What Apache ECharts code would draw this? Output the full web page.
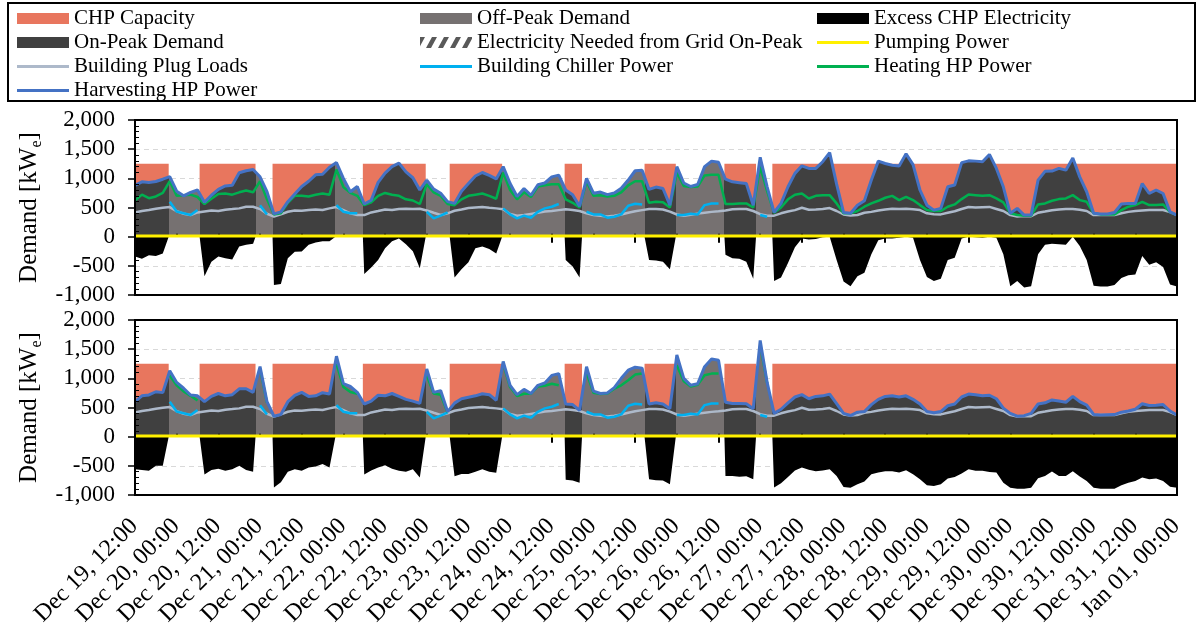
<!DOCTYPE html>
<html>
<head>
<meta charset="utf-8">
<script src="https://cdn.jsdelivr.net/npm/echarts@6/dist/echarts.min.js"></script>
<style>
html, body { margin: 0; padding: 0; background: #fff; }
#chart { width: 1198px; height: 626px; }
</style>
</head>
<body>
<div id="chart"></div>
<script>
// ---------------------------------------------------------------
// Hourly electric balance, Dec 19 12:00 – Jan 01 00:00 (300 h).
// Series are sampled every 2 h; x values are hours from the start.
// ---------------------------------------------------------------
const _ = null; // no visible value at this sample

const tickLabels = [
  'Dec 19, 12:00', 'Dec 20, 00:00', 'Dec 20, 12:00', 'Dec 21, 00:00', 'Dec 21, 12:00',
  'Dec 22, 00:00', 'Dec 22, 12:00', 'Dec 23, 00:00', 'Dec 23, 12:00', 'Dec 24, 00:00',
  'Dec 24, 12:00', 'Dec 25, 00:00', 'Dec 25, 12:00', 'Dec 26, 00:00', 'Dec 26, 12:00',
  'Dec 27, 00:00', 'Dec 27, 12:00', 'Dec 28, 00:00', 'Dec 28, 12:00', 'Dec 29, 00:00',
  'Dec 29, 12:00', 'Dec 30, 00:00', 'Dec 30, 12:00', 'Dec 31, 00:00', 'Dec 31, 12:00',
  'Jan 01, 00:00'
];

const stepHours = 2;
const chpCapacityKw = 1250;

// On-peak windows (CHP running), hours from start
const peakPeriods = [
  [0, 9.7], [18.6, 34.7], [39.6, 57.7], [65.6, 83.7], [90.6, 105.7],
  [123.7, 128.7], [146.7, 155.7], [169.7, 178.8], [183.5, 300]
];

// Pumping power, one value every 12 h
const pumpingKw = [12, 11, 12, 12, 13, 11, 12, 12, 12, 11, 13, 12, 12, 11, 12, 12, 13, 12, 12, 11, 12, 12, 12, 11, 12, 12];

const plugLoadKw = [
  416, 439, 456, 479, 496, 507, 439, 393, 370, 416,
  433, 450, 439, 462, 473, 485, 513, 513, 473, 393,
  345, 382, 427, 450, 445, 456, 467, 456, 485, 507,
  456, 399, 370, 370, 416, 439, 467, 456, 473, 479,
  473, 479, 450, 410, 372, 400, 445, 465, 490, 500,
  510, 495, 485, 470, 390, 360, 370, 390, 410, 430,
  440, 455, 470, 458, 440, 400, 370, 359, 345, 359,
  380, 410, 435, 455, 473, 473, 465, 430, 380, 359,
  375, 395, 410, 425, 435, 450, 470, 473, 473, 440,
  385, 360, 360, 400, 430, 455, 496, 462, 465, 473,
  490, 440, 380, 362, 372, 410, 425, 450, 465, 478,
  475, 478, 470, 456, 400, 385, 382, 410, 435, 475,
  508, 500, 505, 510, 475, 440, 370, 345, 355, 350,
  410, 430, 452, 465, 473, 473, 460, 440, 370, 370,
  370, 370, 400, 425, 440, 450, 456, 456, 456, 420,
  370
];

const chillerKw = [
  _, _, _, _, _, 600, 430, 400, 370, 456,
  _, _, _, _, _, _, _, _, 540, 382,
  _, _, _, _, _, _, _, _, _, 540,
  427, 400, 400, _, _, _, _, _, _, _,
  _, _, 427, 313, 360, 416, _, _, _, _,
  _, _, _, 485, 382, 313, 360, 325, 427, 485,
  513, 560, _, _, _, 427, 382, 382, 325, 342,
  382, 530, 565, 553, _, _, _, _, 370, 370,
  393, 382, 541, 570, 570, _, _, _, _, _,
  370, 342, _, _, _, _, _, _, _, _,
  _, _, _, _, _, _, _, _, _, _,
  _, _, _, _, _, _, _, _, _, _,
  _, _, _, _, _, _, _, _, _, _,
  _, _, _, _, _, _, _, _, _, _,
  _, _, _, _, _, _, _, _, _, _,
  _
];

// ---- Upper panel ----
const harvestKwTop = [
  880, 940, 930, 945, 985, 1030, 780, 700, 760, 800,
  590, 710, 810, 870, 880, 1095, 1130, 1150, 1026, 770,
  390, 425, 600, 730, 860, 950, 1060, 1070, 1190, 1270,
  1000, 770, 860, 560, 625, 930, 1090, 1200, 1260, 1110,
  1010, 800, 970, 815, 745, 600, 570, 780, 910, 1040,
  1100, 1050, 990, 1200, 910, 690, 825, 710, 890, 920,
  1025, 1055, 800, 720, 520, 1000, 745, 765, 720, 750,
  830, 970, 1130, 1140, 810, 850, 825, 540, 1200, 920,
  860, 895, 1200, 1295, 1275, 985, 940, 925, 910, 540,
  1360, 855, 415, 570, 855, 1085, 1215, 1170, 1170, 1285,
  1440, 900, 415, 400, 540, 615, 970, 1295, 1255, 1225,
  1210, 1420, 1235, 800, 540, 455, 485, 855, 885, 1270,
  1300, 1295, 1285, 1410, 1170, 855, 400, 485, 370, 370,
  970, 1120, 1125, 1170, 1140, 1350, 1025, 770, 400, 390,
  390, 415, 560, 570, 570, 910, 740, 800, 740, 425,
  370
];

const heatingKwTop = [
  620, 720, 660, 690, 750, 950, 700, 710, 720, 680,
  560, 650, 730, 740, 720, 760, 790, 760, 950, 640,
  380, 400, 580, 700, 700, 690, 720, 740, 720, 1150,
  850, 750, 700, 540, 590, 700, 750, 720, 700, 640,
  620, 560, 900, 760, 700, 560, 540, 640, 700, 720,
  740, 700, 650, 1100, 800, 640, 760, 680, 860, 880,
  900, 900, 640, 580, 500, 950, 700, 710, 690, 700,
  760, 880, 950, 950, 580, 600, 590, 500, 1100, 870,
  850, 860, 1050, 1060, 1060, 560, 560, 570, 570, 500,
  1200, 780, 410, 500, 640, 720, 740, 655, 700, 712,
  712, 570, 400, 400, 440, 513, 570, 615, 667, 700,
  627, 684, 627, 541, 456, 440, 440, 513, 553, 644,
  723, 712, 700, 712, 655, 587, 400, 370, 359, 360,
  553, 570, 615, 644, 655, 712, 627, 598, 400, 382,
  382, 382, 456, 513, 541, 598, 541, 541, 553, 420,
  370
];

const excessKwTop = [
  -340, -380, -320, -330, -290, 0, 0, 0, 0, 0,
  -680, -430, -340, -370, -390, -170, -140, -120, 0, 0,
  -830, -810, -370, -260, -255, -140, -100, -80, -80, 0,
  0, 0, 0, -640, -530, -400, -200, -80, -30, -130,
  -250, -540, 0, 0, 0, 0, -700, -560, -440, -200,
  -170, -210, -290, 0, 0, 0, 0, 0, 0, 0,
  0, 0, -400, -510, -700, 0, 0, 0, 0, 0,
  0, 0, 0, 0, -400, -410, -430, -560, 0, 0,
  0, 0, 0, 0, 0, -310, -370, -380, -430, -720,
  0, 0, -760, -700, -450, -180, -30, -50, -40, -10,
  0, -400, -770, -850, -680, -620, -300, -60, -30, -30,
  -20, 0, -20, -400, -690, -760, -720, -400, -360, -30,
  0, -10, -20, 0, -20, -300, -850, -760, -870, -850,
  -300, -140, -120, -130, -140, 0, -160, -400, -840, -855,
  -855, -830, -710, -660, -650, -330, -480, -440, -520, -820,
  -855
];

// ---- Lower panel ----
const harvestKwBottom = [
  600, 700, 715, 770, 755, 1130, 930, 830, 715, 700,
  600, 690, 740, 700, 720, 820, 822, 760, 1200, 600,
  350, 380, 600, 707, 760, 690, 700, 753, 730, 1380,
  908, 860, 760, 560, 610, 710, 700, 740, 690, 640,
  610, 570, 1160, 760, 790, 430, 575, 650, 675, 700,
  736, 720, 625, 1290, 880, 720, 810, 740, 880, 920,
  1050, 1080, 560, 550, 450, 1200, 780, 740, 750, 840,
  1000, 1140, 1190, 1175, 560, 580, 560, 480, 1400, 1000,
  880, 908, 1200, 1330, 1310, 590, 570, 570, 565, 480,
  1650, 930, 400, 470, 580, 680, 720, 650, 690, 700,
  730, 565, 400, 362, 420, 430, 550, 640, 690, 700,
  680, 700, 640, 560, 430, 410, 430, 530, 560, 680,
  730, 720, 700, 710, 650, 490, 400, 351, 360, 400,
  560, 580, 630, 610, 590, 690, 600, 540, 380, 372,
  375, 378, 420, 440, 470, 565, 535, 540, 550, 440,
  372
];

const heatingKwBottom = [
  _, _, _, _, _, 1050, 880, 776, 700, 620,
  _, _, _, _, _, _, _, _, 1167, 580,
  _, _, _, _, _, _, _, _, _, 1250,
  851, 765, 736, _, _, _, _, _, _, _,
  _, _, 1050, 740, 719, 420, _, _, _, _,
  _, _, _, 1250, 850, 696, 736, 736, 860, 874,
  908, 880, _, _, _, 1100, 753, 730, 740, 822,
  880, 966, 1064, 1081, _, _, _, _, 1225, 950,
  860, 890, 1052, 1081, 1081, _, _, _, _, _,
  1570, 920, _, _, _, _, _, _, _, _,
  _, _, _, _, _, _, _, _, _, _,
  _, _, _, _, _, _, _, _, _, _,
  _, _, _, _, _, _, _, _, _, _,
  _, _, _, _, _, _, _, _, _, _,
  _, _, _, _, _, _, _, _, _, _,
  _
];

const excessKwBottom = [
  -560, -570, -586, -500, -500, 0, 0, 0, 0, 0,
  -650, -570, -550, -586, -560, -500, -570, -600, 0, 0,
  -870, -780, -600, -560, -586, -530, -510, -470, -530, 0,
  0, 0, 0, -650, -580, -530, -490, -550, -586, -600,
  -560, -700, 0, 0, 0, 0, -680, -640, -640, -600,
  -560, -600, -620, 0, 0, 0, 0, 0, 0, 0,
  0, 0, -740, -750, -790, 0, 0, 0, 0, 0,
  0, 0, 0, 0, -730, -745, -750, -816, 0, 0,
  0, 0, 0, 0, 0, -673, -673, -685, -680, -730,
  0, 0, -870, -800, -690, -580, -529, -569, -592, -580,
  -558, -673, -862, -874, -816, -770, -644, -615, -592, -592,
  -615, -575, -644, -730, -834, -845, -816, -719, -690, -632,
  -558, -586, -586, -604, -615, -788, -874, -891, -891, -874,
  -713, -673, -598, -673, -673, -592, -684, -759, -874, -891,
  -891, -891, -834, -788, -759, -701, -730, -719, -759, -857,
  -874
];

// No on-peak grid purchase occurs in this period
const gridNeedKw = [];

// ---------------------------------------------------------------
const FONT = 'Liberation Serif';
const COLORS = {
  chp: '#E8765E', onPeak: '#404040', offPeak: '#767171', excess: '#000000',
  pump: '#FFF000', plug: '#ADB9CA', chiller: '#00B0F0', heating: '#00B050',
  harvest: '#4472C4', gridNeed: '#595959'
};

const toPoints = arr => arr.map((v, i) => [i * stepHours, v]);
const pumpPoints = pumpingKw.map((v, i) => [i * 12, v]);
const chpPoints = [];
peakPeriods.forEach(([a, b]) => {
  chpPoints.push([a, 0], [a, chpCapacityKw], [b, chpCapacityKw], [b, 0]);
});

// Excess is zero whenever the CHP is off, so it closes at each window edge
function excessPoints(arr) {
  const pts = toPoints(arr);
  peakPeriods.forEach(([a, b]) => {
    if (a > 0) pts.push([a, 0]);
    if (b < 300) pts.push([b, 0]);
  });
  return pts.sort((u, v) => u[0] - v[0]);
}

const panels = [
  { harvest: harvestKwTop, heating: heatingKwTop, excess: excessKwTop },
  { harvest: harvestKwBottom, heating: heatingKwBottom, excess: excessKwBottom }
];

const GRID_TOP = [120, 320];
const GRID_LEFT = 135, GRID_W = 1042, GRID_H = 175;

const series = [];
const demandSeriesIdx = [];

panels.forEach((d, p) => {
  const base = { type: 'line', xAxisIndex: p * 3, yAxisIndex: p * 2, symbol: 'none', silent: true };
  const lineOf = (name, data, color, width, extra) => Object.assign({}, base, {
    name, data, itemStyle: { color }, lineStyle: { color, width }, connectNulls: false
  }, extra || {});

  series.push(Object.assign({}, base, {
    name: 'CHP Capacity', data: chpPoints,
    itemStyle: { color: COLORS.chp }, lineStyle: { width: 0, color: COLORS.chp },
    areaStyle: { color: COLORS.chp, opacity: 1 }
  }));
  demandSeriesIdx.push(series.length);
  series.push(Object.assign({}, base, {
    name: 'Demand', data: toPoints(d.harvest),
    lineStyle: { width: 0 }, areaStyle: { opacity: 1 }
  }));
  series.push(Object.assign({}, base, {
    name: 'Excess CHP Electricity', data: excessPoints(d.excess),
    itemStyle: { color: COLORS.excess }, lineStyle: { width: 0, color: COLORS.excess },
    areaStyle: { color: COLORS.excess, opacity: 1 }
  }));
  series.push(lineOf('Building Plug Loads', toPoints(plugLoadKw), COLORS.plug, 2.5));
  series.push(lineOf('Building Chiller Power', toPoints(chillerKw), COLORS.chiller, 2.5));
  series.push(lineOf('Heating HP Power', toPoints(d.heating), COLORS.heating, 2.5));
  series.push(lineOf('Harvesting HP Power', toPoints(d.harvest), COLORS.harvest, 3));
  series.push(lineOf('Pumping Power', pumpPoints, COLORS.pump, 3, { z: 6 }));
});

// Entries that only appear in the key
series.push({ type: 'line', name: 'On-Peak Demand', data: [], xAxisIndex: 0, yAxisIndex: 0, itemStyle: { color: COLORS.onPeak } });
series.push({ type: 'line', name: 'Off-Peak Demand', data: [], xAxisIndex: 0, yAxisIndex: 0, itemStyle: { color: COLORS.offPeak } });
series.push({ type: 'line', name: 'Electricity Needed from Grid On-Peak', data: toPoints(gridNeedKw), xAxisIndex: 0, yAxisIndex: 0, itemStyle: { color: COLORS.gridNeed } });

// Axes
const xAxes = [], yAxes = [];
[0, 1].forEach(p => {
  xAxes.push({
    gridIndex: p, type: 'value', position: 'bottom', min: 0, max: 300, interval: 12,
    axisLine: { show: false, onZero: false }, axisTick: { show: false }, splitLine: { show: false },
    axisLabel: p === 1 ? {
      show: true, rotate: 45, align: 'right', verticalAlign: 'top', margin: 10,
      padding: [0, 13, 0, 0],
      fontFamily: FONT, fontSize: 24, color: '#000',
      formatter: v => tickLabels[Math.round(v / 12)] || ''
    } : { show: false }
  });
  xAxes.push({
    gridIndex: p, type: 'value', position: 'bottom', min: 0, max: 300, interval: 12, z: 5,
    axisLine: { show: true, onZero: true, onZeroAxisIndex: p * 2, lineStyle: { color: '#000', width: 1 } },
    axisTick: { show: true, inside: true, length: 3, lineStyle: { color: '#000', width: 2 } },
    axisLabel: { show: false }, splitLine: { show: false }
  });
  xAxes.push({
    gridIndex: p, type: 'value', position: 'bottom', min: 0, max: 300, interval: 24, z: 5,
    axisLine: { show: false, onZero: true, onZeroAxisIndex: p * 2 },
    axisTick: { show: true, inside: false, length: 6, lineStyle: { color: '#000', width: 2 } },
    axisLabel: { show: false }, splitLine: { show: false }
  });
  yAxes.push({
    gridIndex: p, type: 'value', position: 'left', min: -1000, max: 2000, interval: 500,
    axisLine: { show: false },
    axisTick: { show: true, length: 7, lineStyle: { color: '#000', width: 1.5 } },
    axisLabel: {
      fontFamily: FONT, fontSize: 23, color: '#000', margin: 20,
      formatter: v => v.toLocaleString('en-US')
    },
    splitLine: { show: true, lineStyle: { color: '#D9D9D9', width: 1.2, type: [5, 4] } },
    name: '{m|Demand [kW}{s|e}{m|]}',
    nameLocation: 'middle', nameRotate: 90, nameGap: 87,
    nameTextStyle: {
      fontFamily: FONT, fontSize: 25, color: '#000',
      rich: {
        m: { fontFamily: FONT, fontSize: 25, color: '#000' },
        s: { fontFamily: FONT, fontSize: 16, color: '#000', padding: [14, 0, 0, 0] }
      }
    }
  });
  yAxes.push({
    gridIndex: p, type: 'value', position: 'left', min: -1000, max: 2000, interval: 500, z: 5,
    axisLine: { show: false },
    axisTick: { show: false, inside: true },
    minorTick: { show: true, splitNumber: 5, length: 4, lineStyle: { color: '#000', width: 1 } },
    axisLabel: { show: false }, splitLine: { show: false }
  });
});

// Hatched key swatch
function hatchIcon() {
  const c = document.createElement('canvas');
  c.width = 52; c.height = 11;
  const g = c.getContext('2d');
  g.fillStyle = '#ffffff'; g.fillRect(0, 0, 52, 11);
  g.fillStyle = COLORS.gridNeed;
  for (let x = -6; x < 60; x += 12) {
    g.beginPath();
    g.moveTo(x, 11); g.lineTo(x + 5, 11); g.lineTo(x + 11, 0); g.lineTo(x + 6, 0);
    g.closePath(); g.fill();
  }
  return 'image://' + c.toDataURL();
}

const lineIcon = 'path://M0,0H52V3H0Z';
const legendCommon = {
  orient: 'vertical', top: 8, itemWidth: 52, itemHeight: 11, itemGap: 3, itemTextGap: 5,
  selectedMode: false, padding: 0, itemStyle: { borderWidth: 0 },
  textStyle: { fontFamily: FONT, fontSize: 21, color: '#000' }
};

const chart = echarts.init(document.getElementById('chart'), null, { renderer: 'canvas' });
chart.setOption({
  animation: false,
  backgroundColor: '#ffffff',
  grid: GRID_TOP.map(t => ({
    left: GRID_LEFT, top: t, width: GRID_W, height: GRID_H,
    show: false, containLabel: false, outerBoundsMode: 'none'
  })),
  xAxis: xAxes,
  yAxis: yAxes,
  visualMap: demandSeriesIdx.map(idx => ({
    type: 'piecewise', show: false, dimension: 0, seriesIndex: idx,
    pieces: peakPeriods.map(([a, b]) => ({ gte: a, lte: b, color: COLORS.onPeak })),
    outOfRange: { color: COLORS.offPeak }
  })),
  legend: [
    Object.assign({}, legendCommon, { left: 17, data: [
      { name: 'CHP Capacity', icon: 'rect' },
      { name: 'On-Peak Demand', icon: 'rect' },
      { name: 'Building Plug Loads', icon: lineIcon },
      { name: 'Harvesting HP Power', icon: lineIcon }
    ] }),
    Object.assign({}, legendCommon, { left: 420, data: [
      { name: 'Off-Peak Demand', icon: 'rect' },
      { name: 'Electricity Needed from Grid On-Peak', icon: hatchIcon() },
      { name: 'Building Chiller Power', icon: lineIcon }
    ] }),
    Object.assign({}, legendCommon, { left: 817, data: [
      { name: 'Excess CHP Electricity', icon: 'rect' },
      { name: 'Pumping Power', icon: lineIcon },
      { name: 'Heating HP Power', icon: lineIcon }
    ] })
  ],
  graphic: [
    { type: 'rect', silent: true, z: 100, shape: { x: 8, y: 3, width: 1187, height: 98 },
      style: { fill: 'none', stroke: '#000', lineWidth: 2 } },
    { type: 'rect', silent: true, z: 100, shape: { x: GRID_LEFT, y: GRID_TOP[0], width: GRID_W, height: GRID_H },
      style: { fill: 'none', stroke: '#000', lineWidth: 2 } },
    { type: 'rect', silent: true, z: 100, shape: { x: GRID_LEFT, y: GRID_TOP[1], width: GRID_W, height: GRID_H },
      style: { fill: 'none', stroke: '#000', lineWidth: 2 } }
  ],
  series: series
});
</script>
</body>
</html>
